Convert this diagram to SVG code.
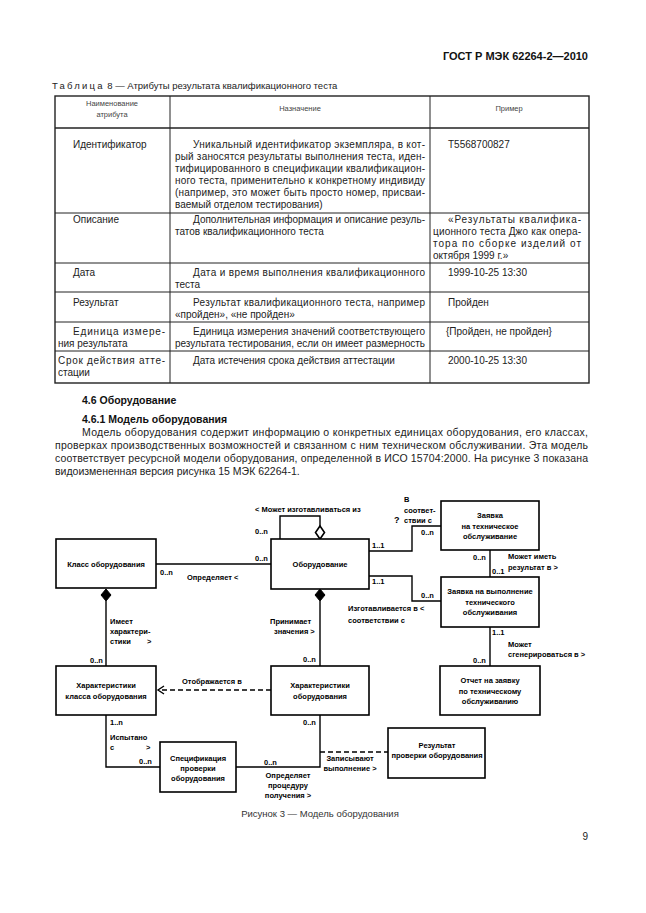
<svg xmlns="http://www.w3.org/2000/svg" width="646" height="913" viewBox="0 0 646 913">
<style>
text{font-family:"Liberation Sans",Arial,sans-serif;fill:#222}
.hd{font-size:11px;font-weight:bold;fill:#111}
.cap{font-size:9.5px}
.th{font-size:7.5px;fill:#444}
.tb{font-size:10px}
.sec{font-size:10.5px;font-weight:bold;fill:#111}
.par{font-size:10.5px}
.bx{fill:#fff;stroke:#000;stroke-width:1.6}
.bt{font-size:7.5px;font-weight:bold;text-anchor:middle;fill:#000}
.lb{font-size:7.5px;font-weight:bold;fill:#000}
.ln{fill:none;stroke:#000;stroke-width:1.4}
.dl{fill:none;stroke:#000;stroke-width:1.4;stroke-dasharray:5,3}
.tl{stroke:#222;stroke-width:1;fill:none}
.to{stroke:#222;stroke-width:1.4;fill:none}
</style>
<rect width="646" height="913" fill="#fff"/>
<text class="hd" x="588" y="60" text-anchor="end">ГОСТ Р МЭК 62264-2—2010</text>
<text class="cap" x="52" y="89"><tspan letter-spacing="2.2">Таблица</tspan> 8 — Атрибуты результата квалификационного теста</text>
<g id="table">
<rect class="to" x="55" y="96" width="534" height="287"/>
<line class="tl" x1="170" y1="96" x2="170" y2="383"/>
<line class="tl" x1="430" y1="96" x2="430" y2="383"/>
<line class="to" x1="55" y1="128" x2="589" y2="128"/>
<line class="tl" x1="55" y1="213" x2="589" y2="213"/>
<line class="tl" x1="55" y1="263" x2="589" y2="263"/>
<line class="tl" x1="55" y1="292" x2="589" y2="292"/>
<line class="tl" x1="55" y1="322" x2="589" y2="322"/>
<line class="tl" x1="55" y1="351" x2="589" y2="351"/>
<text class="th" x="112" y="106" text-anchor="middle">Наименование</text>
<text class="th" x="112" y="117" text-anchor="middle">атрибута</text>
<text class="th" x="300" y="111" text-anchor="middle">Назначение</text>
<text class="th" x="509" y="111" text-anchor="middle">Пример</text>
<text class="tb" x="73" y="148">Идентификатор</text>
<text class="tb" x="193" y="148" textLength="232" lengthAdjust="spacing">Уникальный идентификатор экземпляра, в кот-</text>
<text class="tb" x="175" y="160" textLength="250" lengthAdjust="spacing">рый заносятся результаты выполнения теста, иден-</text>
<text class="tb" x="175" y="172" textLength="250" lengthAdjust="spacing">тифицированного в спецификации квалификацион-</text>
<text class="tb" x="175" y="184" textLength="250" lengthAdjust="spacing">ного теста, применительно к конкретному индивиду</text>
<text class="tb" x="175" y="196" textLength="250" lengthAdjust="spacing">(например, это может быть просто номер, присваи-</text>
<text class="tb" x="175" y="208">ваемый отделом тестирования)</text>
<text class="tb" x="448" y="148">T5568700827</text>
<text class="tb" x="73" y="223">Описание</text>
<text class="tb" x="193" y="223" textLength="232" lengthAdjust="spacing">Дополнительная информация  и описание резуль-</text>
<text class="tb" x="175" y="235">татов квалификационного теста</text>
<text class="tb" x="448" y="223" textLength="133" lengthAdjust="spacing">«Результаты квалифика-</text>
<text class="tb" x="433" y="235" textLength="148" lengthAdjust="spacing">ционного теста Джо как опера-</text>
<text class="tb" x="433" y="247" textLength="148" lengthAdjust="spacing">тора по сборке изделий от</text>
<text class="tb" x="433" y="259">октября  1999 г.»</text>
<text class="tb" x="73" y="276">Дата</text>
<text class="tb" x="193" y="276" textLength="232" lengthAdjust="spacing">Дата и время выполнения  квалификационного</text>
<text class="tb" x="175" y="288">теста</text>
<text class="tb" x="448" y="276">1999-10-25 13:30</text>
<text class="tb" x="73" y="306">Результат</text>
<text class="tb" x="193" y="306" textLength="232" lengthAdjust="spacing">Результат  квалификационного теста, например</text>
<text class="tb" x="175" y="318">«пройден», «не пройден»</text>
<text class="tb" x="448" y="306">Пройден</text>
<text class="tb" x="73" y="335" textLength="92" lengthAdjust="spacing">Единица измере-</text>
<text class="tb" x="58" y="347">ния результата</text>
<text class="tb" x="193" y="335" textLength="232" lengthAdjust="spacing">Единица измерения значений соответствующего</text>
<text class="tb" x="175" y="347" textLength="250" lengthAdjust="spacing">результата тестирования, если он имеет размерность</text>
<text class="tb" x="446" y="335">{Пройден, не пройден}</text>
<text class="tb" x="58" y="364" textLength="107" lengthAdjust="spacing">Срок действия атте-</text>
<text class="tb" x="58" y="376">стации</text>
<text class="tb" x="193" y="364">Дата истечения срока действия аттестации</text>
<text class="tb" x="448" y="364">2000-10-25 13:30</text>
</g>
<text class="sec" x="82" y="404">4.6 Оборудование</text>
<text class="sec" x="82" y="423">4.6.1 Модель оборудования</text>
<text class="par" x="82" y="436" textLength="506" lengthAdjust="spacing">Модель оборудования содержит информацию о конкретных единицах оборудования, его классах,</text>
<text class="par" x="55" y="449" textLength="533" lengthAdjust="spacing">проверках производственных возможностей и связанном с ним техническом обслуживании. Эта модель</text>
<text class="par" x="55" y="462" textLength="533" lengthAdjust="spacing">соответствует ресурсной модели оборудования, определенной в ИСО 15704:2000. На рисунке 3 показана</text>
<text class="par" x="55" y="475">видоизмененная версия рисунка 15 МЭК 62264-1.</text>

<g id="connectors">
<path class="ln" d="M280,539 V516 H320 V526"/>
<polygon points="320,526 324.5,532.5 320,539 315.5,532.5" fill="#fff" stroke="#000" stroke-width="1.6"/>
<path class="ln" d="M156,564 H271"/>
<polygon points="106,589 111,595 106,601 101,595" fill="#000" stroke="#000"/>
<path class="ln" d="M106,601 V666"/>
<polygon points="320,589 325,595 320,601 315,595" fill="#000" stroke="#000"/>
<path class="ln" d="M320,601 V666"/>
<path class="ln" d="M369,551 H412 V526 H441"/>
<path class="ln" d="M369,576 H412 V601 H441"/>
<path class="ln" d="M490,550 V577"/>
<path class="ln" d="M490,627 V666"/>
<path class="dl" d="M271,690 H158"/>
<path class="ln" d="M164,686 L158,690 L164,694"/>
<path class="ln" d="M320,715 V767 H236"/>
<path class="dl" d="M320,752 H388"/>
<path class="ln" d="M106,715 V767 H160"/>
</g>

<g id="n-klass"><rect class="bx" x="56" y="539" width="100" height="49"/><text class="bt" x="106" y="567">Класс оборудования</text></g>
<g id="n-obor"><rect class="bx" x="271" y="539" width="98" height="50"/><text class="bt" x="320" y="567">Оборудование</text></g>
<g id="n-zayavka"><rect class="bx" x="441" y="501" width="98" height="49"/><text class="bt" x="490" y="518">Заявка</text><text class="bt" x="490" y="528.5">на техническое</text><text class="bt" x="490" y="539">обслуживание</text></g>
<g id="n-zayavka-vyp"><rect class="bx" x="441" y="577" width="98" height="50"/><text class="bt" x="490" y="594">Заявка на выполнение</text><text class="bt" x="490" y="604.5">технического</text><text class="bt" x="490" y="615">обслуживания</text></g>
<g id="n-otchet"><rect class="bx" x="440" y="666" width="100" height="49"/><text class="bt" x="490" y="683">Отчет на заявку</text><text class="bt" x="490" y="693.5">по техническому</text><text class="bt" x="490" y="704">обслуживанию</text></g>
<g id="n-har-klass"><rect class="bx" x="56" y="666" width="100" height="49"/><text class="bt" x="106" y="688">Характеристики</text><text class="bt" x="106" y="699">класса оборудования</text></g>
<g id="n-har-obor"><rect class="bx" x="271" y="666" width="98" height="49"/><text class="bt" x="320" y="688">Характеристики</text><text class="bt" x="320" y="699">оборудования</text></g>
<g id="n-spec"><rect class="bx" x="160" y="742" width="76" height="50"/><text class="bt" x="198" y="761">Спецификация</text><text class="bt" x="198" y="771">проверки</text><text class="bt" x="198" y="781">оборудования</text></g>
<g id="n-rez"><rect class="bx" x="388" y="728" width="97" height="50"/><text class="bt" x="437" y="748">Результат</text><text class="bt" x="437" y="758">проверки оборудования</text></g>

<g id="labels">
<text class="lb" x="255" y="512">&lt; Может изготавливаться из</text>
<text class="lb" x="255" y="534">0..n</text>
<text class="lb" x="255" y="561">0..n</text>
<text class="lb" x="160" y="575">0..n</text>
<text class="lb" x="187" y="580">Определяет &lt;</text>
<text class="lb" x="372" y="548">1..1</text>
<text class="lb" x="372" y="584">1..1</text>
<text class="lb" x="404" y="502">В</text>
<text class="lb" x="404" y="513">соответ-</text>
<text class="lb" x="394" y="523" style="font-size:9px">?</text>
<text class="lb" x="404" y="523">ствии с</text>
<text class="lb" x="421" y="535">0..n</text>
<text class="lb" x="421" y="598">0..n</text>
<text class="lb" x="473" y="560">0..n</text>
<text class="lb" x="492" y="574">0..1</text>
<text class="lb" x="508" y="559">Может иметь</text>
<text class="lb" x="508" y="570">результат в &gt;</text>
<text class="lb" x="348" y="611">Изготавливается в &lt;</text>
<text class="lb" x="348" y="623">соответствии с</text>
<text class="lb" x="492" y="635">1..1</text>
<text class="lb" x="508" y="647">Может</text>
<text class="lb" x="508" y="657">сгенерироваться в &gt;</text>
<text class="lb" x="473" y="663">0..n</text>
<text class="lb" x="110" y="624">Имеет</text>
<text class="lb" x="110" y="634">характери-</text>
<text class="lb" x="110" y="644">стики</text>
<text class="lb" x="147" y="644">&gt;</text>
<text class="lb" x="90" y="663">0..n</text>
<text class="lb" x="270" y="624">Принимает</text>
<text class="lb" x="274" y="634">значения &gt;</text>
<text class="lb" x="303" y="662">0..n</text>
<text class="lb" x="182" y="684">Отображается в</text>
<text class="lb" x="110" y="725">1..n</text>
<text class="lb" x="303" y="725">0..n</text>
<text class="lb" x="110" y="740">Испытано</text>
<text class="lb" x="110" y="750">с</text>
<text class="lb" x="146" y="750">&gt;</text>
<text class="lb" x="139" y="764">0..n</text>
<text class="lb" x="264" y="765">0..n</text>
<text class="lb" x="288" y="778" text-anchor="middle">Определяет</text>
<text class="lb" x="288" y="788" text-anchor="middle">процедуру</text>
<text class="lb" x="288" y="798" text-anchor="middle">получения &gt;</text>
<text class="lb" x="350" y="761" text-anchor="middle">Записывают</text>
<text class="lb" x="350" y="771" text-anchor="middle">выполнение &gt;</text>
</g>
<text x="320" y="817" text-anchor="middle" style="font-size:9.5px;fill:#333">Рисунок 3 — Модель оборудования</text>
<text x="588" y="840" text-anchor="end" style="font-size:10px">9</text>
</svg>
